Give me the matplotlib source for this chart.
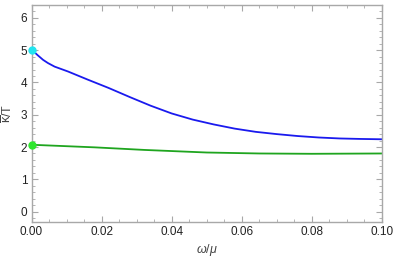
import matplotlib
matplotlib.use('Agg')
import matplotlib.pyplot as plt
from matplotlib.ticker import MultipleLocator

plt.rcParams['font.family'] = ['Liberation Sans', 'DejaVu Sans']
plt.rcParams['mathtext.fontset'] = 'custom'
plt.rcParams['mathtext.it'] = 'Liberation Sans:italic'
plt.rcParams['mathtext.rm'] = 'Liberation Sans'

# curves
omega_blue = [0.0, 0.0008, 0.0018, 0.0033, 0.0047, 0.0066, 0.0104, 0.016, 0.022,
              0.028, 0.034, 0.040, 0.046, 0.052, 0.058, 0.064, 0.070,
              0.076, 0.082, 0.088, 0.094, 0.1]
kappa_blue = [5.0, 4.94, 4.84, 4.70, 4.60, 4.49, 4.34, 4.09, 3.83,
              3.55, 3.28, 3.04, 2.85, 2.70, 2.57, 2.47, 2.40,
              2.34, 2.295, 2.265, 2.25, 2.24]
omega_green = [0.0, 0.018, 0.0322, 0.050, 0.065, 0.080, 0.1]
kappa_green = [2.07, 1.99, 1.91, 1.83, 1.80, 1.79, 1.80]
start_points = [(0.0, 5.0, '#22e5f0'), (0.0, 2.07, '#2ee62e')]

frame_grey = '#a8a8a8'

fig = plt.figure(figsize=(3.99, 2.62), dpi=100)
ax = fig.add_axes([0.079, 0.153, 0.878, 0.828])

ax.plot(omega_blue, kappa_blue, color='#1a1aee', lw=1.3, solid_joinstyle='round')
ax.plot(omega_green, kappa_green, color='#1fa51f', lw=1.3, solid_joinstyle='round')
for x0, y0, c in start_points:
    ax.plot([x0], [y0], 'o', color=c, ms=5, clip_on=False, zorder=5)

ax.set_xlim(0, 0.1)
ax.set_ylim(-0.32, 6.4)
ax.xaxis.set_major_locator(MultipleLocator(0.02))
ax.xaxis.set_minor_locator(MultipleLocator(0.005))
ax.yaxis.set_major_locator(MultipleLocator(1))
ax.yaxis.set_minor_locator(MultipleLocator(0.2))
ax.xaxis.set_major_formatter(plt.FuncFormatter(lambda v, p: f'{v:.2f}'))

for s in ax.spines.values():
    s.set_color(frame_grey)
    s.set_linewidth(1.0)
ax.tick_params(which='both', direction='in', color=frame_grey, top=True, right=True,
               labeltop=False, labelright=False, labelsize=8.5, labelcolor='#222222')
ax.tick_params(which='major', length=4, width=0.8, pad=3)
ax.tick_params(which='minor', length=2, width=0.6)

ax.set_xlabel(r'$\omega/\mu$', fontsize=9, color='#444444', labelpad=3)
ax.set_ylabel(r'$\overline{\mathrm{\kappa}}$/T', fontsize=9, color='#444444', labelpad=4)

fig.savefig('out.png', dpi=100)
